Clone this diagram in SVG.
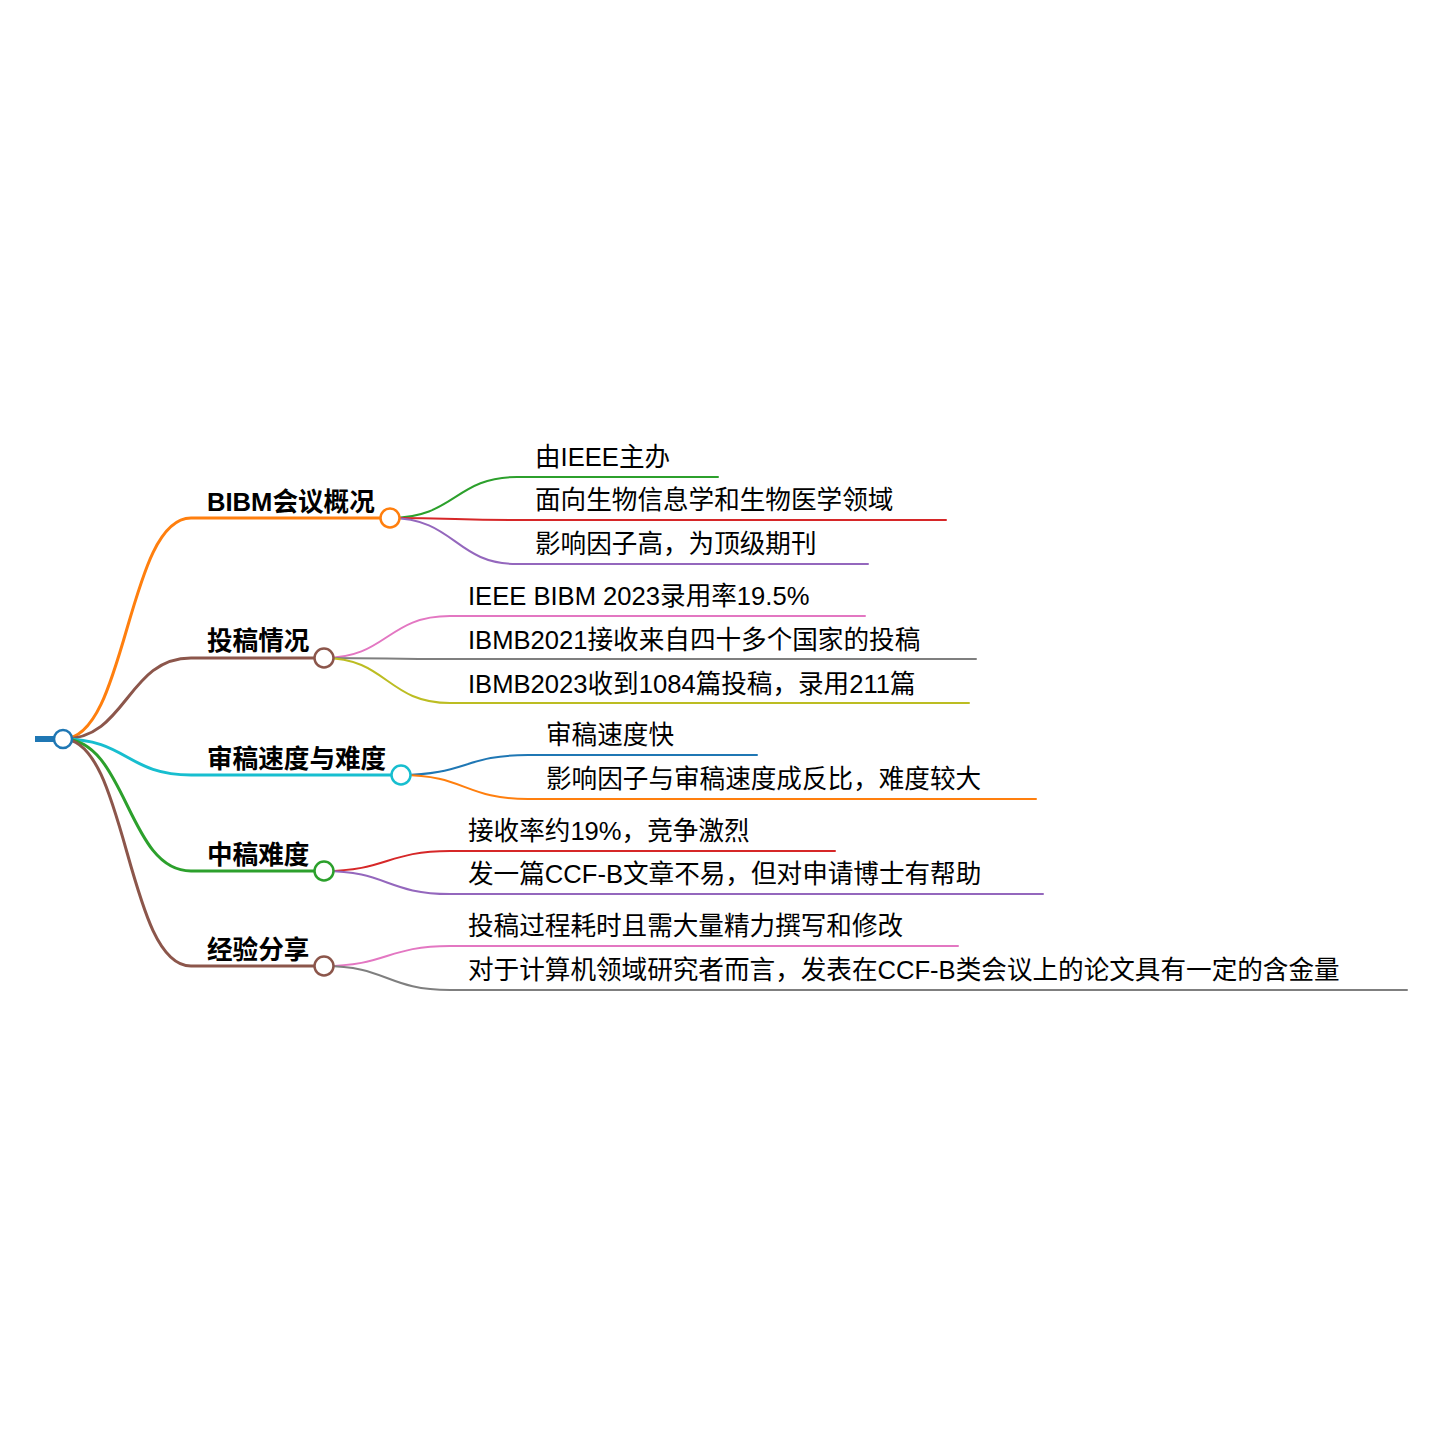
<svg xmlns="http://www.w3.org/2000/svg" width="1440" height="1432" viewBox="0 0 1440 1432">
<style>
text{font-family:"Liberation Sans","Noto Sans CJK SC",sans-serif;font-size:25.6px;fill:#000}
.b{font-weight:bold}
.l{fill:none;stroke-linecap:round}
.m{stroke-width:3}
.f{stroke-width:2}
circle{fill:#fff;stroke-width:2.5}
</style>
<rect width="1440" height="1432" fill="#fff"/>
<g id="connectors">
<line x1="35" y1="739" x2="56" y2="739" stroke="#1f77b4" stroke-width="6"/>
<path class="l m" stroke="#ff7f0e" d="M63 739C127 739 127 518 191 518H390"/>
<path class="l m" stroke="#8c564b" d="M63 739C127 739 127 658 191 658H324"/>
<path class="l m" stroke="#17becf" d="M63 739C127 739 127 775 191 775H401"/>
<path class="l m" stroke="#2ca02c" d="M63 739C127 739 127 871 191 871H324"/>
<path class="l m" stroke="#8c564b" d="M63 739C127 739 127 966 191 966H324"/>
<path class="l f" stroke="#2ca02c" d="M390 518C455 518 455 477 517 477H718"/>
<path class="l f" stroke="#d62728" d="M390 518C455 518 455 520 517 520H946"/>
<path class="l f" stroke="#9467bd" d="M390 518C455 518 455 564 517 564H868"/>
<path class="l f" stroke="#e377c2" d="M324 658C387 658 387 616 450 616H865"/>
<path class="l f" stroke="#7f7f7f" d="M324 658C387 658 387 659 450 659H976"/>
<path class="l f" stroke="#bcbd22" d="M324 658C387 658 387 703 450 703H969"/>
<path class="l f" stroke="#1f77b4" d="M401 775C465 775 465 755 528 755H757"/>
<path class="l f" stroke="#ff7f0e" d="M401 775C465 775 465 799 528 799H1036"/>
<path class="l f" stroke="#d62728" d="M324 871C387 871 387 851 450 851H835"/>
<path class="l f" stroke="#9467bd" d="M324 871C387 871 387 894 450 894H1043"/>
<path class="l f" stroke="#e377c2" d="M324 966C387 966 387 946 450 946H958"/>
<path class="l f" stroke="#7f7f7f" d="M324 966C387 966 387 990 450 990H1407"/>
</g>
<g id="root"><circle cx="63" cy="739" r="9" stroke="#1f77b4"/></g>
<g id="n1"><text class="b" x="207" y="511">BIBM会议概况</text><circle cx="390" cy="518" r="9.5" stroke="#ff7f0e"/></g>
<g id="n1a"><text x="535" y="466">由IEEE主办</text></g>
<g id="n1b"><text x="535" y="509">面向生物信息学和生物医学领域</text></g>
<g id="n1c"><text x="535" y="553">影响因子高，为顶级期刊</text></g>
<g id="n2"><text class="b" x="207" y="650">投稿情况</text><circle cx="324" cy="658" r="9.5" stroke="#8c564b"/></g>
<g id="n2a"><text x="468" y="605">IEEE BIBM 2023录用率19.5%</text></g>
<g id="n2b"><text x="468" y="649">IBMB2021接收来自四十多个国家的投稿</text></g>
<g id="n2c"><text x="468" y="693">IBMB2023收到1084篇投稿，录用211篇</text></g>
<g id="n3"><text class="b" x="207" y="768">审稿速度与难度</text><circle cx="401" cy="775" r="9.5" stroke="#17becf"/></g>
<g id="n3a"><text x="546" y="744">审稿速度快</text></g>
<g id="n3b"><text x="546" y="788">影响因子与审稿速度成反比，难度较大</text></g>
<g id="n4"><text class="b" x="207" y="864">中稿难度</text><circle cx="324" cy="871" r="9.5" stroke="#2ca02c"/></g>
<g id="n4a"><text x="468" y="840">接收率约19%，竞争激烈</text></g>
<g id="n4b"><text x="468" y="883">发一篇CCF-B文章不易，但对申请博士有帮助</text></g>
<g id="n5"><text class="b" x="207" y="959">经验分享</text><circle cx="324" cy="966" r="9.5" stroke="#8c564b"/></g>
<g id="n5a"><text x="468" y="935">投稿过程耗时且需大量精力撰写和修改</text></g>
<g id="n5b"><text x="468" y="979">对于计算机领域研究者而言，发表在CCF-B类会议上的论文具有一定的含金量</text></g>
</svg>
